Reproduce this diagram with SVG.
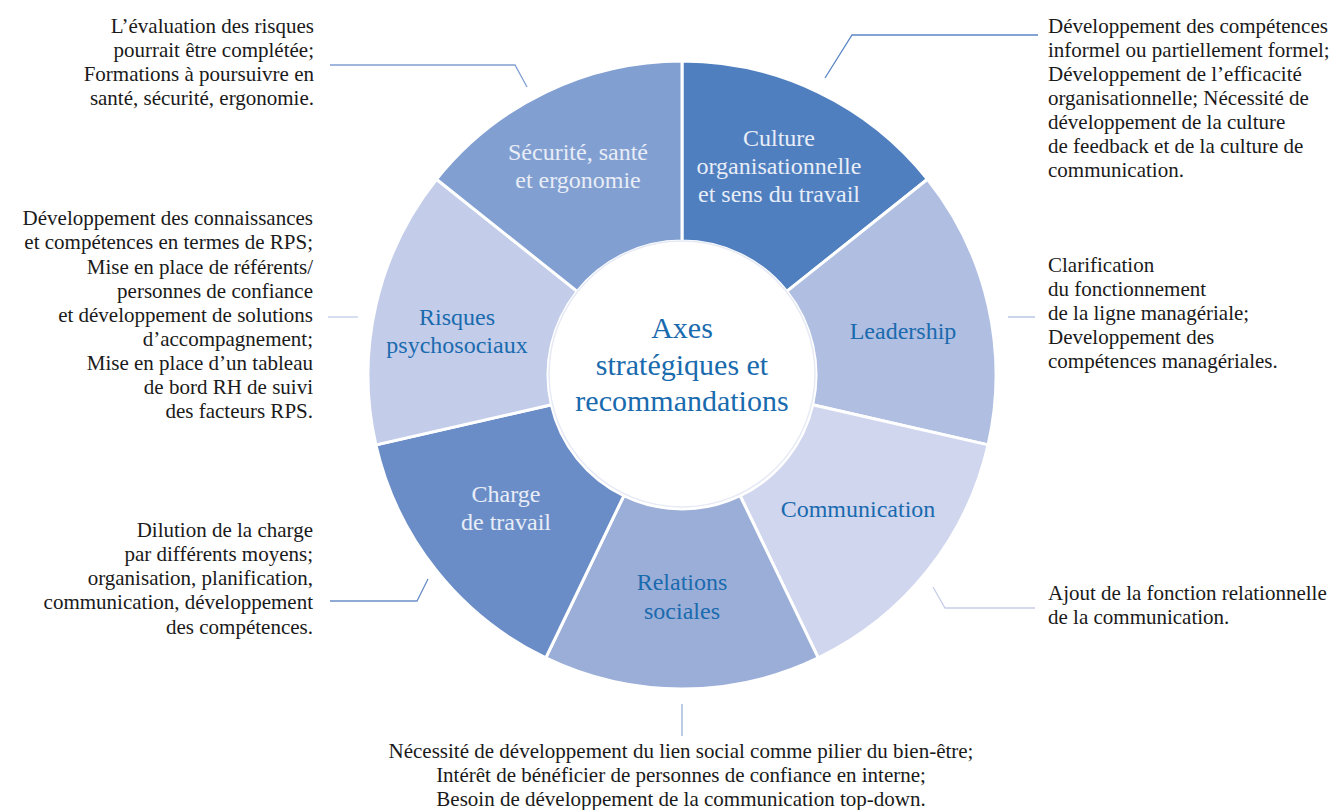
<svg xmlns="http://www.w3.org/2000/svg" width="1334" height="810" viewBox="0 0 1334 810">
<style>
.seg{stroke:#ffffff;stroke-width:3}
.lbl{font-family:"Liberation Serif","Times New Roman",serif;font-size:24px;text-anchor:middle}
.lt{fill:#E8EDF7}
.bl{fill:#1A6AAE}
.ctr{font-family:"Liberation Serif","Times New Roman",serif;font-size:30px;text-anchor:middle;fill:#1A6AAE}
.note{font-family:"Liberation Serif","Times New Roman",serif;font-size:21px;fill:#1a1a1a}
.r{text-anchor:end}
.c{text-anchor:middle}
.con{fill:none;stroke-width:1.3}
</style>
<rect width="1334" height="810" fill="#ffffff"/>
<g id="connectors">
<polyline class="con" stroke="#5B86C4" points="825,78 852,35 1038,35"/>
<polyline class="con" stroke="#AEBDE0" points="1008,317 1035,317"/>
<polyline class="con" stroke="#C6CDE8" points="933,587 945,608 1035,608"/>
<polyline class="con" stroke="#9AAFD8" points="682,704 682,736"/>
<polyline class="con" stroke="#6A8EC7" points="330,601 417,601 428,579"/>
<polyline class="con" stroke="#C3CDE9" points="328,317 358,317"/>
<polyline class="con" stroke="#819FD1" points="330,65 515,65 527,87"/>
</g>
<g id="culture">
<path class="seg" fill="#4F7FBF" d="M682,61 A314,314 0 0 1 927.49,179.22 L786.77,291.45 A134,134 0 0 0 682,241 Z"/>
<text class="lbl lt" x="779"><tspan x="779" y="146">Culture</tspan><tspan x="779" y="174">organisationnelle</tspan><tspan x="779" y="202">et sens du travail</tspan></text>
</g>
<g id="leadership">
<path class="seg" fill="#AFBEE1" d="M927.49,179.22 A314,314 0 0 1 988.13,444.87 L812.64,404.82 A134,134 0 0 0 786.77,291.45 Z"/>
<text class="lbl bl" x="903" y="339">Leadership</text>
</g>
<g id="communication">
<path class="seg" fill="#D0D6EE" d="M988.13,444.87 A314,314 0 0 1 818.24,657.90 L740.14,495.73 A134,134 0 0 0 812.64,404.82 Z"/>
<text class="lbl bl" x="858" y="517">Communication</text>
</g>
<g id="relations">
<path class="seg" fill="#9AAED8" d="M818.24,657.90 A314,314 0 0 1 545.76,657.90 L623.86,495.73 A134,134 0 0 0 740.14,495.73 Z"/>
<text class="lbl bl" x="682"><tspan x="682" y="590">Relations</tspan><tspan x="682" y="619">sociales</tspan></text>
</g>
<g id="charge">
<path class="seg" fill="#6A8DC7" d="M545.76,657.90 A314,314 0 0 1 375.87,444.87 L551.36,404.82 A134,134 0 0 0 623.86,495.73 Z"/>
<text class="lbl lt" x="506"><tspan x="506" y="502">Charge</tspan><tspan x="506" y="530">de travail</tspan></text>
</g>
<g id="risques">
<path class="seg" fill="#C3CDEA" d="M375.87,444.87 A314,314 0 0 1 436.51,179.22 L577.23,291.45 A134,134 0 0 0 551.36,404.82 Z"/>
<text class="lbl bl" x="457"><tspan x="457" y="325">Risques</tspan><tspan x="457" y="353">psychosociaux</tspan></text>
</g>
<g id="securite">
<path class="seg" fill="#829FD1" d="M436.51,179.22 A314,314 0 0 1 682,61 L682,241 A134,134 0 0 0 577.23,291.45 Z"/>
<text class="lbl lt" x="578"><tspan x="578" y="160">Sécurité, santé</tspan><tspan x="578" y="188">et ergonomie</tspan></text>
</g>
<g id="center">
<circle cx="682" cy="374" r="133" fill="#ffffff" stroke="#E6EAF5" stroke-width="1.5"/>
<text class="ctr"><tspan x="682" y="338">Axes</tspan><tspan x="682" y="375">stratégiques et</tspan><tspan x="682" y="411">recommandations</tspan></text>
</g>
<g id="note-culture">
<text class="note"><tspan x="1048" y="33">Développement des compétences</tspan><tspan x="1048" y="57">informel ou partiellement formel;</tspan><tspan x="1048" y="81">Développement de l’efficacité</tspan><tspan x="1048" y="105">organisationnelle; Nécessité de</tspan><tspan x="1048" y="129">développement de la culture</tspan><tspan x="1048" y="153">de feedback et de la culture de</tspan><tspan x="1048" y="177">communication.</tspan></text>
</g>
<g id="note-leadership">
<text class="note"><tspan x="1048" y="272">Clarification</tspan><tspan x="1048" y="296">du fonctionnement</tspan><tspan x="1048" y="320">de la ligne managériale;</tspan><tspan x="1048" y="344">Developpement des</tspan><tspan x="1048" y="368">compétences managériales.</tspan></text>
</g>
<g id="note-communication">
<text class="note"><tspan x="1048" y="600">Ajout de la fonction relationnelle</tspan><tspan x="1048" y="624">de la communication.</tspan></text>
</g>
<g id="note-relations">
<text class="note c"><tspan x="681" y="758">Nécessité de développement du lien social comme pilier du bien-être;</tspan><tspan x="681" y="782">Intérêt de bénéficier de personnes de confiance en interne;</tspan><tspan x="681" y="806">Besoin de développement de la communication top-down.</tspan></text>
</g>
<g id="note-charge">
<text class="note r"><tspan x="313" y="537">Dilution de la charge</tspan><tspan x="313" y="561">par différents moyens;</tspan><tspan x="313" y="585">organisation, planification,</tspan><tspan x="313" y="609">communication, développement</tspan><tspan x="313" y="634">des compétences.</tspan></text>
</g>
<g id="note-risques">
<text class="note r"><tspan x="313" y="225">Développement des connaissances</tspan><tspan x="313" y="249">et compétences en termes de RPS;</tspan><tspan x="313" y="274">Mise en place de référents/</tspan><tspan x="313" y="298">personnes de confiance</tspan><tspan x="313" y="322">et développement de solutions</tspan><tspan x="313" y="346">d’accompagnement;</tspan><tspan x="313" y="370">Mise en place d’un tableau</tspan><tspan x="313" y="394">de bord RH de suivi</tspan><tspan x="313" y="418">des facteurs RPS.</tspan></text>
</g>
<g id="note-securite">
<text class="note r"><tspan x="314" y="33">L’évaluation des risques</tspan><tspan x="314" y="57">pourrait être complétée;</tspan><tspan x="314" y="81">Formations à poursuivre en</tspan><tspan x="314" y="105">santé, sécurité, ergonomie.</tspan></text>
</g>
</svg>
